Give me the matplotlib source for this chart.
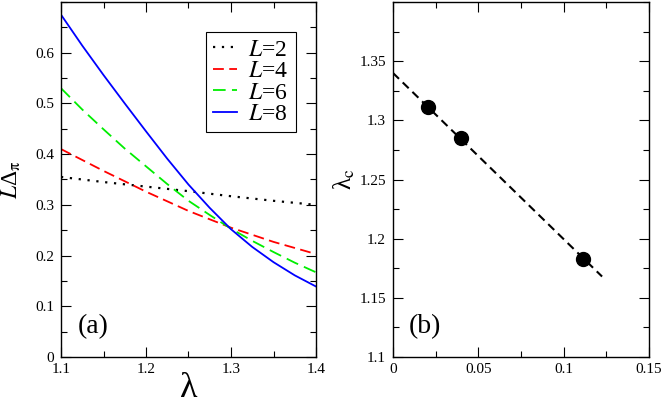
import matplotlib
matplotlib.use("Agg")
import matplotlib.pyplot as plt
from matplotlib.ticker import MultipleLocator, FormatStrFormatter

plt.rcParams['font.family'] = ['Liberation Serif', 'DejaVu Serif']
plt.rcParams['mathtext.fontset'] = 'stix'

# Panel (a) data
lam = [1.10, 1.15, 1.20, 1.25, 1.30, 1.35, 1.40]
L2 = [0.355, 0.345, 0.336, 0.327, 0.317, 0.308, 0.300]
L4 = [0.410, 0.367, 0.326, 0.288, 0.255, 0.227, 0.203]
lam_fine = [1.100, 1.125, 1.150, 1.175, 1.200, 1.225, 1.250,
            1.275, 1.300, 1.325, 1.350, 1.375, 1.400]
L6 = [0.530, 0.488, 0.449, 0.411, 0.376, 0.341, 0.308,
      0.280, 0.253, 0.229, 0.207, 0.186, 0.167]
L8 = [0.675, 0.614, 0.556, 0.500, 0.445, 0.391, 0.340,
      0.294, 0.252, 0.217, 0.187, 0.161, 0.139]

# Panel (b) data
inv_L2 = [1/49, 1/25, 1/9]
lam_c = [1.311, 1.285, 1.183]
fit_x = [0.0, 0.1225]
fit_y = [1.340, 1.168]

fig = plt.figure(figsize=(6.64, 4.07), dpi=100)
ax1 = fig.add_axes([61/664, 1-357/407, 255/664, 355/407])
ax2 = fig.add_axes([393/664, 1-357/407, 256/664, 355/407])

lw = 1.3
ax1.plot(lam, L2, color='black', lw=1.6, linestyle=(0, (1, 3.0)), label='$L$=2')
ax1.plot(lam, L4, color='#ff0000', lw=lw, linestyle=(0, (6, 3)), label='$L$=4')
ax1.plot(lam_fine, L6, color='#00ee00', lw=lw, linestyle=(0, (7, 3.5)), label='$L$=6')
ax1.plot(lam_fine, L8, color='#0000ff', lw=lw, linestyle='-', label='$L$=8')

ax1.set_xlim(1.1, 1.4)
ax1.set_ylim(0, 0.7)
ax1.set_xticks([1.1, 1.2, 1.3, 1.4])
ax1.set_yticks([0, 0.1, 0.2, 0.3, 0.4, 0.5, 0.6])
ax1.xaxis.set_minor_locator(MultipleLocator(0.05))
ax1.yaxis.set_minor_locator(MultipleLocator(0.05))
ax1.xaxis.set_major_formatter(FormatStrFormatter('%g'))
ax1.yaxis.set_major_formatter(FormatStrFormatter('%g'))
ax1.set_xlabel('λ', fontsize=26, labelpad=-3)
ax1.set_ylabel('$L$Δ$_\\mathrm{π}$', fontsize=17, labelpad=9)
leg = ax1.legend(loc='upper right', bbox_to_anchor=(0.920, 0.9155), fontsize=17,
                 frameon=True, fancybox=False, edgecolor='black', framealpha=1,
                 handlelength=1.0, handletextpad=0.5, labelspacing=0.0,
                 borderpad=0.3, borderaxespad=0)
leg.get_frame().set_linewidth(0.8)
ax1.text(0.065, 0.068, '(a)', transform=ax1.transAxes, fontsize=20)

ax2.plot(fit_x, fit_y, color='black', lw=1.5, linestyle=(0, (4, 2.5)))
ax2.plot(inv_L2, lam_c, 'o', color='black', markersize=10)
ax2.set_xlim(0, 0.15)
ax2.set_ylim(1.1, 1.4)
ax2.set_xticks([0, 0.05, 0.1, 0.15])
ax2.set_yticks([1.1, 1.15, 1.2, 1.25, 1.3, 1.35])
ax2.xaxis.set_minor_locator(MultipleLocator(0.025))
ax2.yaxis.set_minor_locator(MultipleLocator(0.025))
ax2.xaxis.set_major_formatter(FormatStrFormatter('%g'))
ax2.yaxis.set_major_formatter(FormatStrFormatter('%g'))
ax2.set_ylabel('λ$_\\mathrm{c}$', fontsize=18, labelpad=2)
ax2.text(0.06, 0.068, '(b)', transform=ax2.transAxes, fontsize=20)

for ax in (ax1, ax2):
    ax.tick_params(which='both', direction='in', top=True, right=True,
                   labelsize=11, width=0.8)
    ax.tick_params(axis='y', which='both', pad=5)
    ax.tick_params(axis='x', which='both', pad=4.5)
    ax.tick_params(which='major', length=7)
    ax.tick_params(which='minor', length=4)
    for s in ax.spines.values():
        s.set_linewidth(1.0)

fig.savefig('out.png', dpi=100)
